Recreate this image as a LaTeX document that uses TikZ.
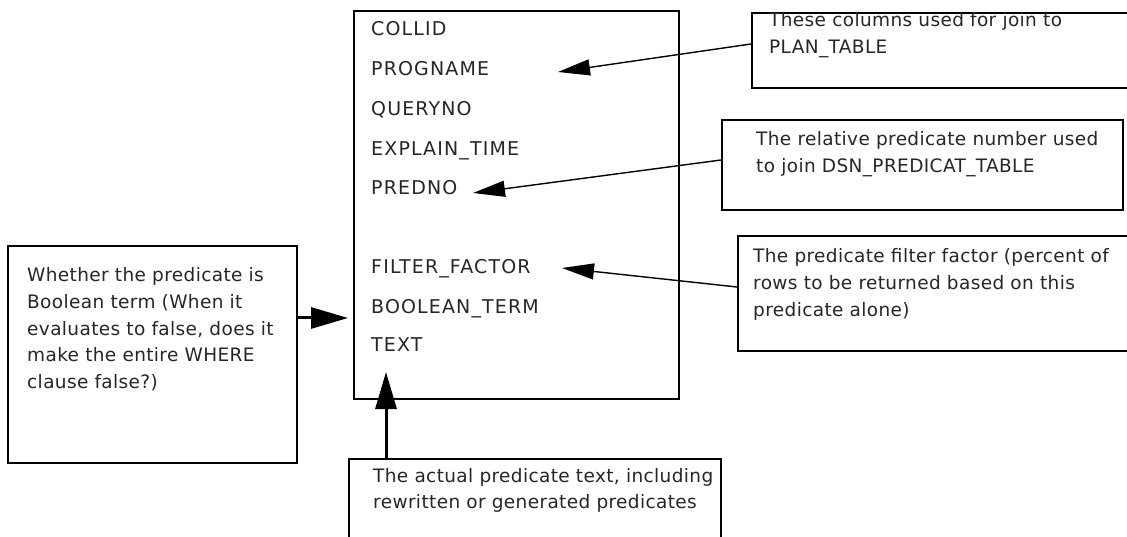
\documentclass[tikz,border=0pt]{standalone}
\usepackage{fontspec}
\setmainfont{DejaVu Sans}
\newfontfamily\colfont[LetterSpace=6]{DejaVu Sans}
\newfontfamily\notefont[LetterSpace=2]{DejaVu Sans}
\usetikzlibrary{arrows.meta,calc}
\begin{document}
\begin{tikzpicture}[x=1pt,y=-1pt,
  box/.style={draw, line width=2pt, inner sep=0pt, anchor=north west},
  note/.style={anchor=base west, inner sep=0pt, align=left, text width=390pt,
    font=\notefont\fontsize{18.5}{26.6}\selectfont, text=black!85},
  col/.style={anchor=base west, inner sep=0pt,
    font=\colfont\fontsize{19}{22}\selectfont, text=black!85},
  thinarrow/.style={line width=1.4pt, -{Triangle[length=32pt,width=16pt]}},
  thickarrow/.style={line width=3pt, -{Triangle[length=37pt,width=21pt]}}]
\useasboundingbox (0,0) rectangle (1127,537);
\clip (0,0) rectangle (1127,537);

% column list
\node[box, minimum width=325pt, minimum height=388pt] (cols) at (353,10) {};
\node[col] (collid)   at (371,36)  {COLLID};
\node[col] (progname) at (371,76)  {PROGNAME};
\node[col] (queryno)  at (371,116) {QUERYNO};
\node[col] (explain)  at (371,156) {EXPLAIN\_TIME};
\node[col] (predno)   at (371,195) {PREDNO};
\node[col] (filter)   at (371,274) {FILTER\_FACTOR};
\node[col] (boolean)  at (371,313) {BOOLEAN\_TERM};
\node[col] (text)     at (371,352) {TEXT};

% callouts
\node[box, minimum width=400pt, minimum height=75pt] (plan) at (751,12) {};
\node[note] (plantxt) at (769,27) {These columns used for join to\\PLAN\_TABLE};

\node[box, minimum width=401pt, minimum height=90pt] (pred) at (721,119) {};
\node[note] (predtxt) at (756,146) {The relative predicate number used\\to join DSN\_PREDICAT\_TABLE};

\node[box, minimum width=410pt, minimum height=115pt] (ff) at (737,235) {};
\node[note] (fftxt) at (753,263) {The predicate filter factor (percent of\\rows to be returned based on this\\predicate alone)};

\node[box, minimum width=289pt, minimum height=217pt] (bool) at (7,245) {};
\node[note] (booltxt) at (27,282) {Whether the predicate is\\Boolean term (When it\\evaluates to false, does it\\make the entire WHERE\\clause false?)};

\node[box, minimum width=372pt, minimum height=110pt] (txt) at (348,458) {};
\node[note] (txttxt) at (373,482) {The actual predicate text, including\\rewritten or generated predicates};

% connectors
\coordinate (tipA) at (558,72);
\coordinate (tipB) at (473,193);
\coordinate (tipC) at (562,268);
\coordinate (tipD) at (348,318);
\coordinate (tipE) at (386,372);
\draw[thinarrow] ($(plan.north west)+(0,32)$) -- (tipA);
\draw[thinarrow] ($(pred.north west)+(0,41)$) -- (tipB);
\draw[thinarrow] ($(ff.north west)+(0,52)$) -- (tipC);
\draw[thickarrow] ($(bool.north east)+(0,73)$) -- (tipD);
\draw[thickarrow] ($(txt.north west)+(38,0)$) -- (tipE);
\end{tikzpicture}
\end{document}
